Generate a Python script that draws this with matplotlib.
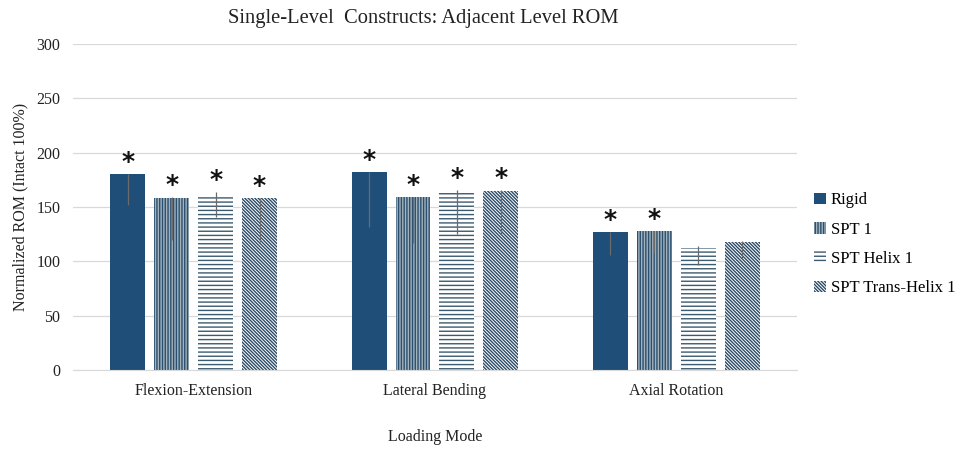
import matplotlib
matplotlib.use("Agg")
import matplotlib.pyplot as plt
import numpy as np

plt.rcParams['font.family'] = ['Liberation Serif', 'DejaVu Serif']
plt.rcParams['hatch.linewidth'] = 1.0

# data
modes = ["Flexion-Extension", "Lateral Bending", "Axial Rotation"]
series = ["Rigid", "SPT 1", "SPT Helix 1", "SPT Trans-Helix 1"]
rigid = [180, 182, 127]
spt1 = [158, 159, 128]
helix = [161, 165, 112]
trans_helix = [158, 165, 118]
# error bar ends (low / high)
rigid_lo = [152, 132, 106]
rigid_hi = [180, 182, 127]
spt1_lo = [120, 117, 108]
spt1_hi = [159, 159, 128]
helix_lo = [141, 125, 97]
helix_hi = [164, 166, 114]
trans_lo = [118, 124, 103]
trans_hi = [158, 166, 119]
# significance stars
rigid_star = [True, True, True]
spt1_star = [True, True, True]
helix_star = [True, True, False]
trans_star = [True, True, False]

values = [rigid, spt1, helix, trans_helix]
lows = [rigid_lo, spt1_lo, helix_lo, trans_lo]
highs = [rigid_hi, spt1_hi, helix_hi, trans_hi]
stars = [rigid_star, spt1_star, helix_star, trans_star]

dark = "#1f4e79"
styles = [
    dict(facecolor=dark, edgecolor=dark, hatch=None),
    dict(facecolor="#a3b3be", edgecolor="#2b4f6e", hatch="||||||"),
    dict(facecolor="white", edgecolor="#3c5a70", hatch="----"),
    dict(facecolor="white", edgecolor="#2a4a66", hatch="\\" * 10),
]

fig = plt.figure(figsize=(9.64, 4.51), dpi=100)
ax = fig.add_axes([0.0757, 0.1796, 0.751, 0.7228])

x = np.arange(len(modes))
width = 0.145
step = 0.182

for i, name in enumerate(series):
    pos = x + (i - 1.5) * step
    vals = np.array(values[i])
    ax.bar(pos, vals, width, label=name, linewidth=0, zorder=2, **styles[i])
    err = [vals - np.array(lows[i]), np.array(highs[i]) - vals]
    ax.errorbar(pos, vals, yerr=err, fmt="none", ecolor="#6b6b6b",
                elinewidth=0.9, capsize=0, zorder=3)
    for j in range(len(modes)):
        if stars[i][j]:
            ax.annotate("*", (pos[j], max(vals[j], highs[i][j])), xytext=(0, 0),
                        textcoords="offset points", ha="center", va="bottom",
                        fontsize=18, fontweight="bold", fontfamily="DejaVu Sans",
                        color="#111111")

ax.set_ylim(0, 300)
ax.set_xlim(-0.5, 2.5)
ax.set_yticks(range(0, 301, 50))
ax.set_xticks(x)
ax.set_xticklabels(modes)
ax.yaxis.grid(True, color="#d9d9d9", linewidth=0.9, zorder=0)
ax.set_axisbelow(True)
for s in ["top", "right", "left"]:
    ax.spines[s].set_visible(False)
ax.spines["bottom"].set_color("#d9d9d9")
ax.tick_params(axis="both", length=0, labelsize=11.5, colors="#222222", pad=9)

fig.text(0.439, 0.96, "Single-Level  Constructs: Adjacent Level ROM", fontsize=14.8,
         ha="center", va="center", color="#222222")
ax.set_ylabel("Normalized ROM (Intact 100%)", fontsize=11.5, color="#222222", labelpad=6)
ax.set_xlabel("Loading Mode", fontsize=11.5, color="#222222", labelpad=22)

ax.legend(loc="center left", bbox_to_anchor=(1.003, 0.385), frameon=False,
          fontsize=12, handlelength=0.7, handleheight=0.7, handletextpad=0.3,
          labelspacing=0.8)

fig.savefig("out.png", dpi=100)
